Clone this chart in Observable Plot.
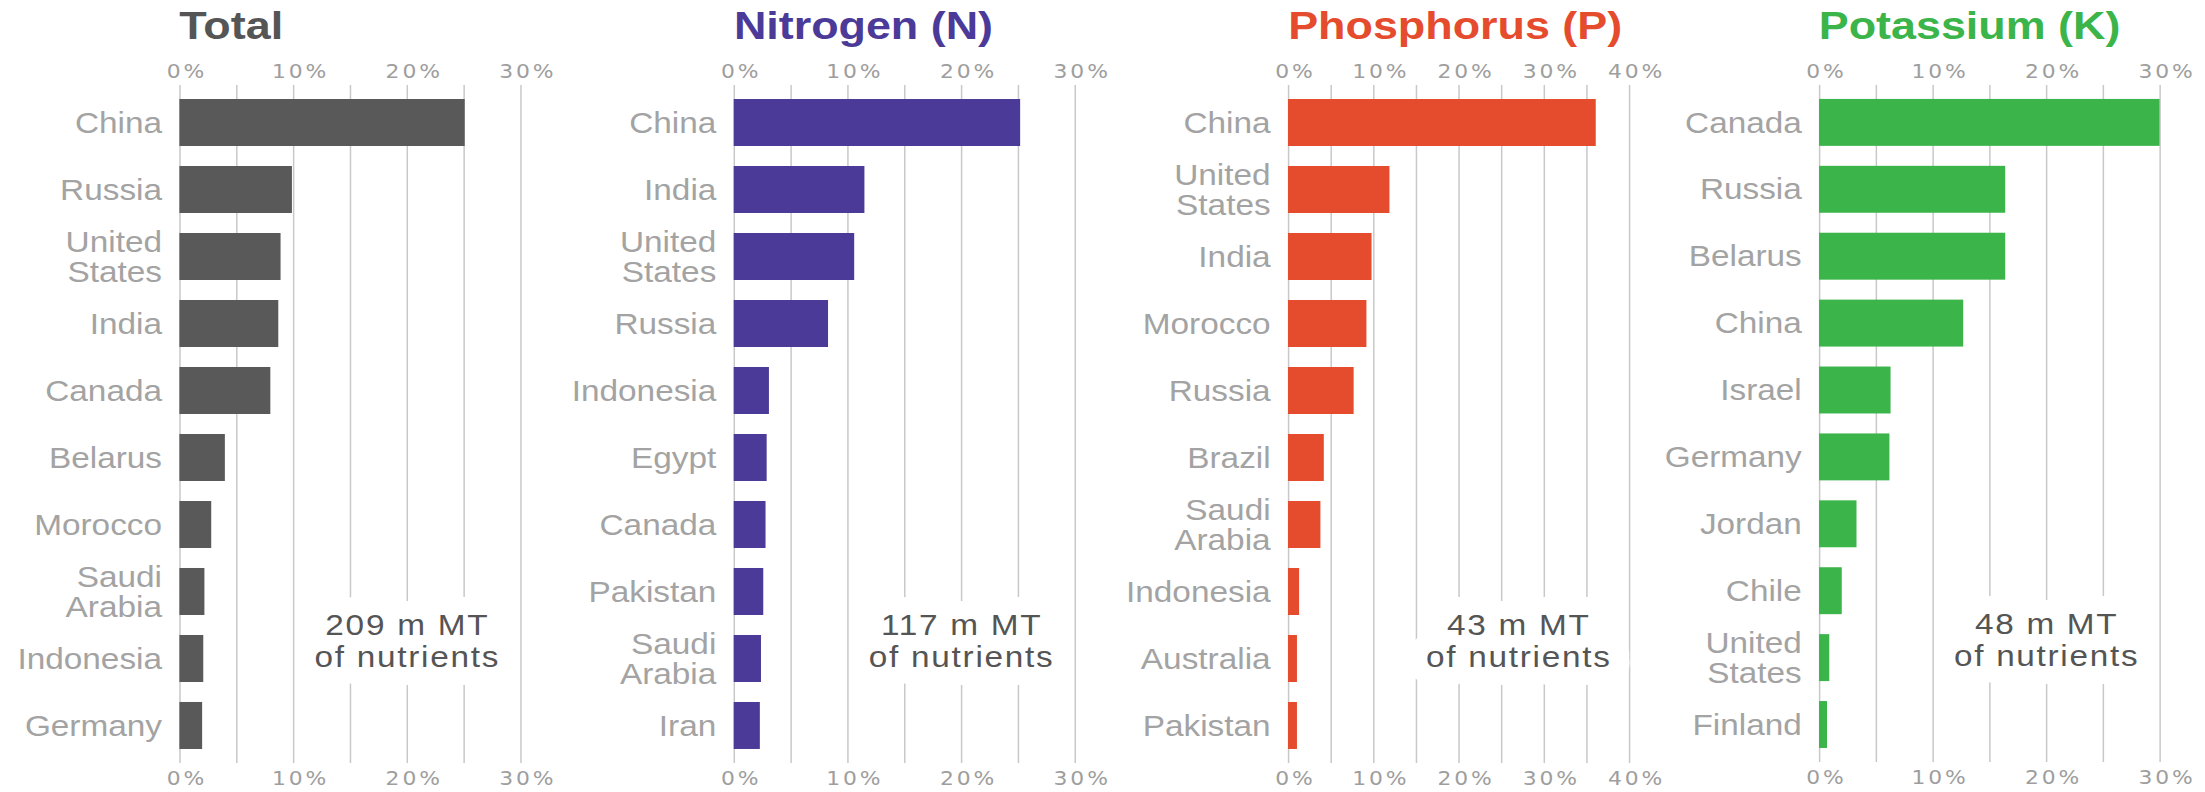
<!DOCTYPE html>
<html>
<head>
<meta charset="utf-8">
<script src="https://cdn.jsdelivr.net/npm/d3@7"></script>
<script src="https://cdn.jsdelivr.net/npm/@observablehq/plot@0.6"></script>
<style>
  html, body { margin: 0; padding: 0; background: #ffffff; overflow: hidden; }
  #stage { position: relative; width: 1917.39px; height: 792px; transform: scaleX(1.15); transform-origin: 0 0; }
  .panel { position: absolute; top: 0; }
  .title { height: 46px; padding-top: 4px; line-height: 50px; font: bold 39px "Liberation Sans", Arial, sans-serif; white-space: nowrap; }
  g[aria-label="x-axis tick label"] text { letter-spacing: 2.5px; }
  g[aria-label="text"] text { letter-spacing: 1.5px; }
</style>
</head>
<body>
<div id="stage"></div>
<script>
// ---------- data ----------
const titles = ["Total", "Nitrogen (N)", "Phosphorus (P)", "Potassium (K)"];
const colors = ["#595959", "#4b3a98", "#e54b2d", "#3bb44a"];
const titleColors = ["#555555", "#4b3a98", "#e54b2d", "#3bb44a"];

const totalCountries = ["China", "Russia", "United States", "India", "Canada", "Belarus", "Morocco", "Saudi Arabia", "Indonesia", "Germany"];
const totalValues    = [25.1, 9.9, 8.9, 8.7, 8.0, 4.0, 2.8, 2.2, 2.1, 2.0];

const nitrogenCountries = ["China", "India", "United States", "Russia", "Indonesia", "Egypt", "Canada", "Pakistan", "Saudi Arabia", "Iran"];
const nitrogenValues    = [25.2, 11.5, 10.6, 8.3, 3.1, 2.9, 2.8, 2.6, 2.4, 2.3];

const phosphorusCountries = ["China", "United States", "India", "Morocco", "Russia", "Brazil", "Saudi Arabia", "Indonesia", "Australia", "Pakistan"];
const phosphorusValues    = [36.1, 11.9, 9.8, 9.2, 7.7, 4.2, 3.8, 1.3, 1.05, 1.05];

const potassiumCountries = ["Canada", "Russia", "Belarus", "China", "Israel", "Germany", "Jordan", "Chile", "United States", "Finland"];
const potassiumValues    = [30.0, 16.4, 16.4, 12.7, 6.3, 6.2, 3.3, 2.0, 0.9, 0.7];

const xDomainMax = [30, 30, 40, 30];
const tickValues = [[0, 10, 20, 30], [0, 10, 20, 30], [0, 10, 20, 30, 40], [0, 10, 20, 30]];
const gridValues = [[0, 5, 10, 15, 20, 25, 30], [0, 5, 10, 15, 20, 25, 30], [0, 5, 10, 15, 20, 25, 30, 35, 40], [0, 5, 10, 15, 20, 25, 30]];
const nutrientTotals = ["209 m MT", "117 m MT", "43 m MT", "48 m MT"];
const nutrientTotalsAt = [20, 20, 27, 20];
const nutrientsLine = "of nutrients";

const countriesByPanel = [totalCountries, nitrogenCountries, phosphorusCountries, potassiumCountries];
const valuesByPanel = [totalValues, nitrogenValues, phosphorusValues, potassiumValues];

// ---------- layout ----------
const S = 1.15;                       // horizontal stretch of the reference
const origins = [179.3, 733.9, 1288.2, 1818.8]; // 0% line, final px
const ML = 150, MR = 40, XR = 341 / S;
const stage = document.getElementById("stage");

titles.forEach((title, i) => {
  const cats = countriesByPanel[i];
  const rows = cats.map((c, j) => ({country: c, value: valuesByPanel[i][j]}));
  const panel = document.createElement("div");
  panel.className = "panel";
  panel.style.left = (origins[i] / S - ML) + "px";
  const t = document.createElement("div");
  t.className = "title";
  t.style.paddingLeft = ML + "px";
  t.style.color = titleColors[i];
  t.textContent = title;
  panel.appendChild(t);

  const axisCommon = {
    ticks: tickValues[i], tickSize: 0, tickPadding: 9, lineAnchor: "middle",
    tickFormat: d => d + "%", fontSize: 19, fontFamily: "DejaVu Sans", fill: "#9e9e9e", dx: 6, label: null
  };
  const note = [{x: nutrientTotalsAt[i], y: cats[8], label: nutrientTotals[i] + "\n" + nutrientsLine}];
  const noteOpts = {x: "x", y: "y", text: "label", fontSize: 29, lineHeight: 1.1, dy: -18};

  const chart = Plot.plot({
    width: ML + XR + MR,
    height: 742,
    marginLeft: ML, marginRight: MR, marginTop: 30, marginBottom: 23,
    style: {fontFamily: "'Liberation Sans', Arial, sans-serif", background: "transparent", overflow: "visible"},
    x: {domain: [0, xDomainMax[i]]},
    y: {domain: cats, paddingInner: 0.293, paddingOuter: 0.221},
    marks: [
      Plot.ruleX(gridValues[i], {stroke: "#c8c8c8", strokeWidth: 1.3, insetTop: 5, insetBottom: 6}),
      Plot.barX(rows, {x: "value", y: "country", fill: colors[i]}),
      Plot.text(note, {...noteOpts, fill: "white", stroke: "white", strokeWidth: 36, strokeLinejoin: "round"}),
      Plot.text(note, {...noteOpts, fill: "#555555"}),
      Plot.axisX({anchor: "top", ...axisCommon}),
      Plot.axisX({anchor: "bottom", ...axisCommon}),
      Plot.axisY({tickSize: 0, tickPadding: 15.6, fontSize: 29, fill: "#a3a3a3", lineHeight: 1.04,
        tickFormat: d => d.replace(" ", "\n"), label: null})
    ]
  });
  panel.appendChild(chart);
  stage.appendChild(panel);
});
</script>
</body>
</html>
